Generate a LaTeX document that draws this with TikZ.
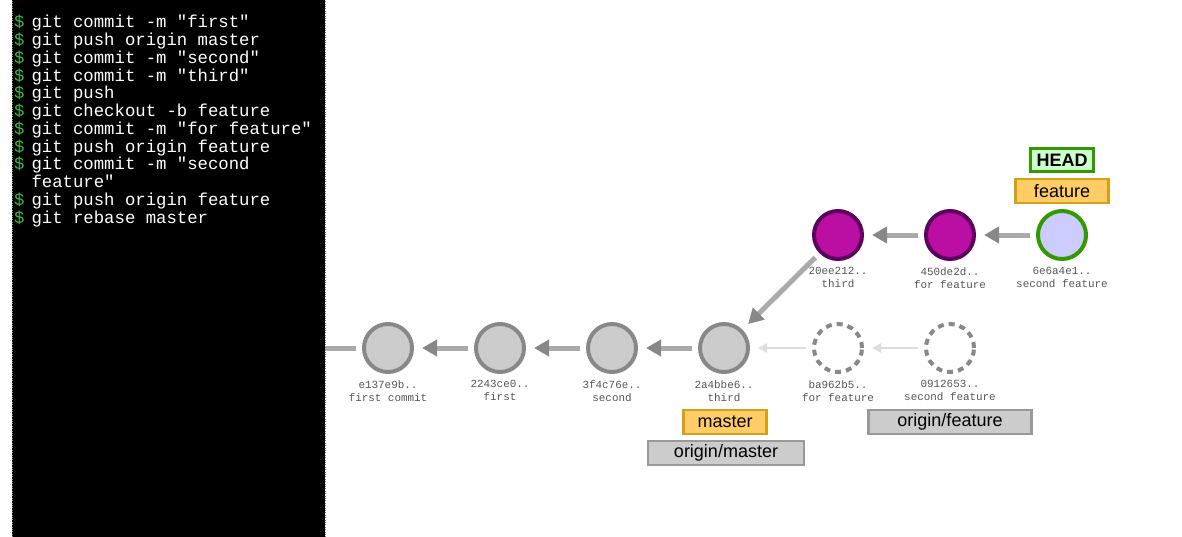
\documentclass[tikz,border=0pt]{standalone}
\usepackage{fontspec}
\setmainfont{Liberation Sans}
\setmonofont{Liberation Mono}
\usepackage{tikz}
\usetikzlibrary{arrows.meta, positioning}
\definecolor{gcfill}{HTML}{CCCCCC}
\definecolor{gcstroke}{HTML}{888888}
\definecolor{purpfill}{HTML}{BB0EA2}
\definecolor{purpstroke}{HTML}{5E0060}
\definecolor{headgreen}{HTML}{339900}
\definecolor{headfill}{HTML}{CCCCFF}
\definecolor{headlblfill}{HTML}{CCFFCC}
\definecolor{branchfill}{HTML}{FFCC66}
\definecolor{branchstroke}{HTML}{D4A017}
\definecolor{remotefill}{HTML}{CCCCCC}
\definecolor{remotestroke}{HTML}{999999}
\definecolor{msggray}{HTML}{555555}
\definecolor{linegray}{HTML}{AAAAAA}
\definecolor{tipgray}{HTML}{888888}
\definecolor{ghostgray}{HTML}{DDDDDD}
\definecolor{termgreen}{HTML}{3DB83D}
\tikzstyle{commit} = [circle, minimum size=48pt, inner sep=0, line width=4pt, draw=gcstroke, fill=gcfill]
\tikzstyle{featcommit} = [commit, draw=purpstroke, fill=purpfill]
\tikzstyle{headcommit} = [commit, draw=headgreen, fill=headfill]
\tikzstyle{ghost} = [commit, draw=gcstroke, fill=white, dash pattern=on 6pt off 5pt]
\tikzstyle{msg} = [align=center, inner sep=0, font=\fontsize{10.9}{13}\selectfont\ttfamily, text=msggray, execute at begin node=\strut]
\tikzstyle{branch} = [rectangle, line width=2.5pt, draw=branchstroke, fill=branchfill, minimum height=24pt, inner sep=0, font=\fontsize{18}{20}\selectfont]
\tikzstyle{remote} = [branch, draw=remotestroke, fill=remotefill]
\tikzstyle{headlbl} = [branch, draw=headgreen, fill=headlblfill, font=\fontsize{18}{20}\selectfont\bfseries]
\tikzstyle{arrow} = [line width=5pt, draw=linegray, -{Triangle[length=15pt, width=16pt, color=tipgray]}, shorten <=6pt, shorten >=8pt]
\tikzstyle{ghostarrow} = [line width=2pt, draw=ghostgray, -{Triangle[length=9pt, width=9pt, color=ghostgray]}, shorten <=6pt, shorten >=8pt]

\begin{document}
\begin{tikzpicture}[x=1pt, y=-1pt]
  \useasboundingbox (0,0) rectangle (1182,536);
  % commits on master
  \node[commit] (firstc) at (388,348) {};
  \node[commit] (first) at (500,348) {};
  \node[commit] (second) at (612,348) {};
  \node[commit] (third) at (724,348) {};
  \node[ghost] (oldfor) at (838,348) {};
  \node[ghost] (oldsec) at (950,348) {};
  % rebased feature commits
  \node[featcommit] (thirdf) at (838,235) {};
  \node[featcommit] (forf) at (950,235) {};
  \node[headcommit] (secf) at (1062,235) {};
  \coordinate (root) at (300,348);

  \node[msg, below=6pt of firstc] (firstcmsg) {e137e9b..\\first commit};
  \node[msg, below=6pt of first] (firstmsg) {2243ce0..\\first};
  \node[msg, below=6pt of second] (secondmsg) {3f4c76e..\\second};
  \node[msg, below=6pt of third] (thirdmsg) {2a4bbe6..\\third};
  \node[msg, below=6pt of oldfor] (oldformsg) {ba962b5..\\for feature};
  \node[msg, below=6pt of oldsec] (oldsecmsg) {0912653..\\second feature};
  \node[msg, below=6pt of thirdf] (thirdfmsg) {20ee212..\\third};
  \node[msg, below=6pt of forf] (forfmsg) {450de2d..\\for feature};
  \node[msg, below=6pt of secf] (secfmsg) {6e6a4e1..\\second feature};

  \draw[arrow] (firstc) -- (root);
  \draw[arrow] (first) -- (firstc);
  \draw[arrow] (second) -- (first);
  \draw[arrow] (third) -- (second);
  \draw[arrow] (thirdf) -- (third);
  \draw[arrow] (forf) -- (thirdf);
  \draw[arrow] (secf) -- (forf);
  \draw[ghostarrow] (oldfor) -- (third);
  \draw[ghostarrow] (oldsec) -- (oldfor);

  % branch labels
  \node[branch, minimum width=83pt] (master) at (725,422) {master};
  \node[remote, minimum width=156pt] (omaster) at (726,453) {origin/master};
  \node[remote, minimum width=163pt] (ofeature) at (950,422) {origin/feature};
  \node[branch, minimum width=93pt] (feature) at (1062,191) {feature};
  \node[headlbl, minimum width=63pt, minimum height=23pt] (head) at (1062,160) {HEAD};

  % terminal
  \node[anchor=north west, inner sep=0, fill=black, draw=gray, dotted, minimum width=313pt, minimum height=540pt] (term) at (12,-2) {};
  \node[anchor=north west, inner sep=0, text=white, font=\fontsize{17.3}{17.4}\selectfont\ttfamily] (cmds) at (14,15) {%
    \begin{tabular}{@{}l@{\hspace{7pt}}l@{}}
      \textcolor{termgreen}{\$} & git commit -m "first"\\
      \textcolor{termgreen}{\$} & git push origin master\\
      \textcolor{termgreen}{\$} & git commit -m "second"\\
      \textcolor{termgreen}{\$} & git commit -m "third"\\
      \textcolor{termgreen}{\$} & git push\\
      \textcolor{termgreen}{\$} & git checkout -b feature\\
      \textcolor{termgreen}{\$} & git commit -m "for feature"\\
      \textcolor{termgreen}{\$} & git push origin feature\\
      \textcolor{termgreen}{\$} & git commit -m "second\\
       & feature"\\
      \textcolor{termgreen}{\$} & git push origin feature\\
      \textcolor{termgreen}{\$} & git rebase master
    \end{tabular}};
\end{tikzpicture}
\end{document}
